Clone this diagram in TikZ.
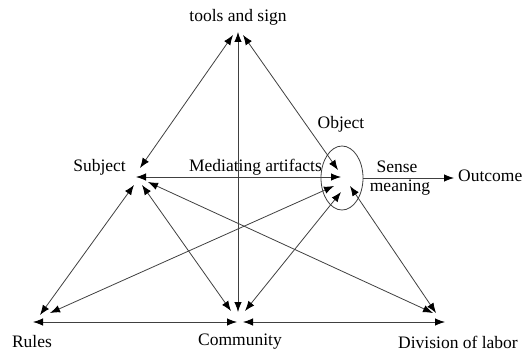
\documentclass[tikz,border=0pt]{standalone}
\usepackage{fontspec}
\setmainfont{Liberation Serif}
\usetikzlibrary{arrows.meta}
\begin{document}
\begin{tikzpicture}[x=1pt,y=-1pt,
  tip/.tip={Latex[length=10pt,width=7.5pt,color=black]},
  conn/.style={draw=black!75,line width=0.8pt,{tip}-{tip}},
  oneway/.style={draw=black!75,line width=0.8pt,-{tip}},
  lbl/.style={inner sep=0pt,font=\fontsize{17.5}{20}\selectfont}]
\useasboundingbox (0,0) rectangle (524,353);
% labels
\node[lbl] (tools) at (238,17) {tools and sign};
\node[lbl,anchor=east] (subj) at (126,167) {Subject};
\node[lbl,anchor=base east] (med) at (322,171) {Mediating artifacts};
\node[lbl] (objl) at (341,124) {Object};
\node[lbl] (sense) at (397,167) {Sense};
\node[lbl] (mean) at (400,188) {meaning};
\node[lbl,anchor=west] (outc) at (458,176) {Outcome};
\node[lbl] (rules) at (32,342) {Rules};
\node[lbl] (comm) at (240,342) {Community};
\node[lbl] (div) at (458,342) {Division of labor};
% object ellipse
\draw[black!75,line width=0.8pt] (342,178) ellipse[x radius=21,y radius=32];
\coordinate (objE) at (363,178);
\coordinate (outE) at (454,178);
% endpoints
\coordinate (Ts) at (233,35);  \coordinate (St) at (140,168);
\coordinate (Tv) at (238,32);  \coordinate (Ct) at (238,312);
\coordinate (To) at (243,35);  \coordinate (Ot) at (338,170);
\coordinate (So) at (136,177); \coordinate (Os) at (341,177);
\coordinate (Sr) at (134,185); \coordinate (Rs) at (40,315);
\coordinate (Sc) at (142,185); \coordinate (Cs) at (231,311);
\coordinate (Sd) at (148,182); \coordinate (Ds) at (433,313);
\coordinate (Or) at (334,186); \coordinate (Ro) at (50,313);
\coordinate (Oc) at (341,192); \coordinate (Co) at (245,311);
\coordinate (Od) at (350,186); \coordinate (Do) at (436,313);
\coordinate (Rc) at (33,322);  \coordinate (Cr) at (237,322);
\coordinate (Cd) at (243,322); \coordinate (Dc) at (445,322);
% connectors
\draw[conn] (Ts) -- (St);
\draw[conn] (Tv) -- (Ct);
\draw[conn] (To) -- (Ot);
\draw[conn] (So) -- (Os);
\draw[conn] (Sr) -- (Rs);
\draw[conn] (Sc) -- (Cs);
\draw[conn] (Sd) -- (Ds);
\draw[conn] (Or) -- (Ro);
\draw[conn] (Oc) -- (Co);
\draw[conn] (Od) -- (Do);
\draw[conn] (Rc) -- (Cr);
\draw[conn] (Cd) -- (Dc);
\draw[oneway] (objE) -- (outE);
\end{tikzpicture}
\end{document}
